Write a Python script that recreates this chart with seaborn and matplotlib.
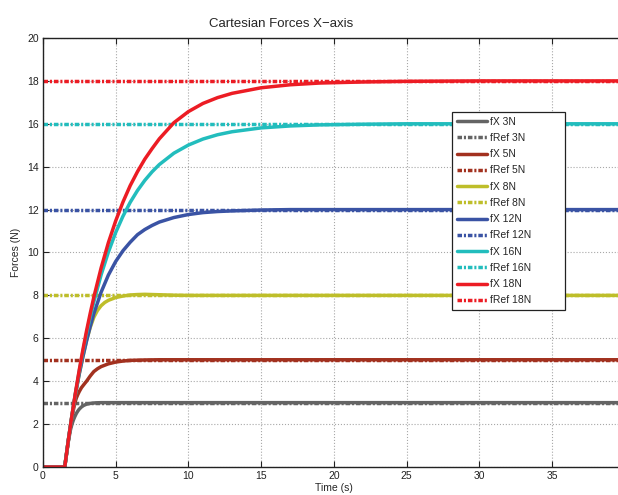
import matplotlib
matplotlib.use("Agg")
import matplotlib.pyplot as plt
import seaborn as sns
import pandas as pd

# Force set-points (N) and legend labels
setpoints = [3, 5, 8, 12, 16, 18]
fx_labels = ["fX 3N", "fX 5N", "fX 8N", "fX 12N", "fX 16N", "fX 18N"]
ref_labels = ["fRef 3N", "fRef 5N", "fRef 8N", "fRef 12N", "fRef 16N", "fRef 18N"]
colors = ["#646464", "#A2311F", "#BEBE2A", "#3A53A4", "#22BDBD", "#EC1C24"]

# Measured force responses (time in s, force in N)
t_3 = [0, 1.5, 1.75, 1.9, 2.0, 2.1, 2.2, 2.3, 2.4, 2.5, 2.65, 2.8, 3.0, 3.3, 3.6, 4.0, 5.0, 40]
f_3 = [0, 0, 1.2, 1.75, 2.0, 2.2, 2.36, 2.5, 2.61, 2.7, 2.8, 2.87, 2.93, 2.97, 2.99, 3.0, 3.0, 3.0]

t_5 = [0, 1.5, 1.75, 2.0, 2.2, 2.3, 2.4, 2.5, 2.65, 2.88, 3.0, 3.25, 3.5, 3.75, 4.0, 4.5,
       5.0, 5.5, 6.0, 7.0, 8.0, 40]
f_5 = [0, 0, 1.25, 2.35, 3.0, 3.22, 3.38, 3.52, 3.7, 3.9, 4.0, 4.24, 4.45, 4.58, 4.68, 4.81,
       4.89, 4.94, 4.97, 4.99, 5.0, 5.0]

t_8 = [0, 1.5, 1.75, 2.0, 2.25, 2.5, 2.75, 3.0, 3.25, 3.5, 3.75, 4.0, 4.25, 4.5, 5.0, 5.5,
       6.0, 6.5, 7.0, 8.0, 9.0, 10, 40]
f_8 = [0, 0, 1.25, 2.4, 3.45, 4.35, 5.15, 5.9, 6.5, 6.98, 7.3, 7.52, 7.67, 7.77, 7.9, 7.97,
       8.02, 8.04, 8.05, 8.03, 8.01, 8.0, 8.0]

t_12 = [0, 1.5, 1.75, 2.0, 2.25, 2.5, 2.75, 3.0, 3.25, 3.5, 4.0, 4.5, 5.0, 5.5, 6.0, 6.5,
        7.0, 7.5, 8.0, 9.0, 10.0, 11.0, 12.0, 13.0, 15.0, 17.0, 40]
f_12 = [0, 0, 1.25, 2.4, 3.45, 4.35, 5.15, 5.88, 6.55, 7.15, 8.15, 8.95, 9.58, 10.08, 10.48,
        10.83, 11.07, 11.26, 11.42, 11.63, 11.77, 11.86, 11.91, 11.94, 11.98, 12.0, 12.0]

t_16 = [0, 1.5, 1.75, 2.0, 2.25, 2.5, 2.75, 3.0, 3.25, 3.5, 4.0, 4.5, 5.0, 5.5, 6.0, 6.5,
        7.0, 7.5, 8.0, 9.0, 10.0, 11.0, 12.0, 13.0, 15.0, 17.0, 19.0, 22.0, 25.0, 40]
f_16 = [0, 0, 1.26, 2.42, 3.49, 4.48, 5.38, 6.22, 6.99, 7.7, 8.96, 10.02, 10.93, 11.69,
        12.34, 12.89, 13.36, 13.76, 14.1, 14.63, 15.01, 15.29, 15.49, 15.63, 15.81, 15.9,
        15.95, 15.98, 16.0, 16.0]

t_18 = [0, 1.5, 1.75, 2.0, 2.25, 2.5, 2.75, 3.0, 3.25, 3.5, 4.0, 4.5, 5.0, 5.5, 6.0, 6.5,
        7.0, 7.5, 8.0, 9.0, 10.0, 11.0, 12.0, 13.0, 15.0, 17.0, 19.0, 22.0, 25.0, 30.0, 40]
f_18 = [0, 0, 1.26, 2.43, 3.51, 4.53, 5.47, 6.35, 7.16, 7.92, 9.28, 10.46, 11.47, 12.35,
        13.12, 13.77, 14.35, 14.84, 15.3, 16.05, 16.57, 16.95, 17.22, 17.42, 17.68, 17.82,
        17.9, 17.95, 17.98, 18.0, 18.0]

times = [t_3, t_5, t_8, t_12, t_16, t_18]
forces = [f_3, f_5, f_8, f_12, f_16, f_18]

x_ticks = list(range(0, 41, 5))
y_ticks = list(range(0, 21, 2))
t_span = [0, 40]

sns.set_style("ticks")
plt.rcParams["font.family"] = ["Liberation Sans", "DejaVu Sans"]
plt.rcParams["axes.unicode_minus"] = True

fig = plt.figure(figsize=(6.18, 4.95), dpi=100)
ax = fig.add_axes([42.9 / 618, 28 / 495, (625 - 42.9) / 618, 429 / 495])

ref_style = (0, (1.3, 0.55, 0.6, 0.55))
for t, f, sp, lx, lr, c in zip(times, forces, setpoints, fx_labels, ref_labels, colors):
    df = pd.DataFrame({"Time (s)": t, "Forces (N)": f})
    sns.lineplot(data=df, x="Time (s)", y="Forces (N)", color=c, lw=2.5,
                 solid_joinstyle="round", label=lx, ax=ax)
    ref = pd.DataFrame({"Time (s)": t_span, "Forces (N)": [sp, sp]})
    sns.lineplot(data=ref, x="Time (s)", y="Forces (N)", color=c, lw=2.5,
                 linestyle=ref_style, label=lr, ax=ax)

ax.set_xlim(t_span)
ax.set_ylim(0, 20)
ax.set_xticks(x_ticks)
ax.set_yticks(y_ticks)
ax.grid(True, linestyle=":", color="#a8a8a8", linewidth=0.8)
ax.tick_params(direction="in", length=4, width=0.8, colors="#222222",
               labelsize=7.5, top=True, right=True, pad=3)
for s in ax.spines.values():
    s.set_color("#222222")
    s.set_linewidth(1.0)

ax.set_xlabel("Time (s)", fontsize=7.5, labelpad=1)
ax.set_ylabel("Forces (N)", fontsize=7.5, labelpad=4)
title = ax.set_title("Cartesian Forces X\u2212axis", fontsize=9.5, pad=8)
title.set_x(0.409)

leg = ax.legend(loc="upper left", bbox_to_anchor=(0.7028, 0.0, 0.194, 0.8275),
                mode="expand", borderaxespad=0, fontsize=7.5, frameon=True,
                fancybox=False, edgecolor="#222222", framealpha=1,
                handlelength=2.9, handletextpad=0.3, labelspacing=0.6,
                borderpad=0.45)
leg.get_frame().set_linewidth(0.9)

fig.savefig("out.png", dpi=100)
